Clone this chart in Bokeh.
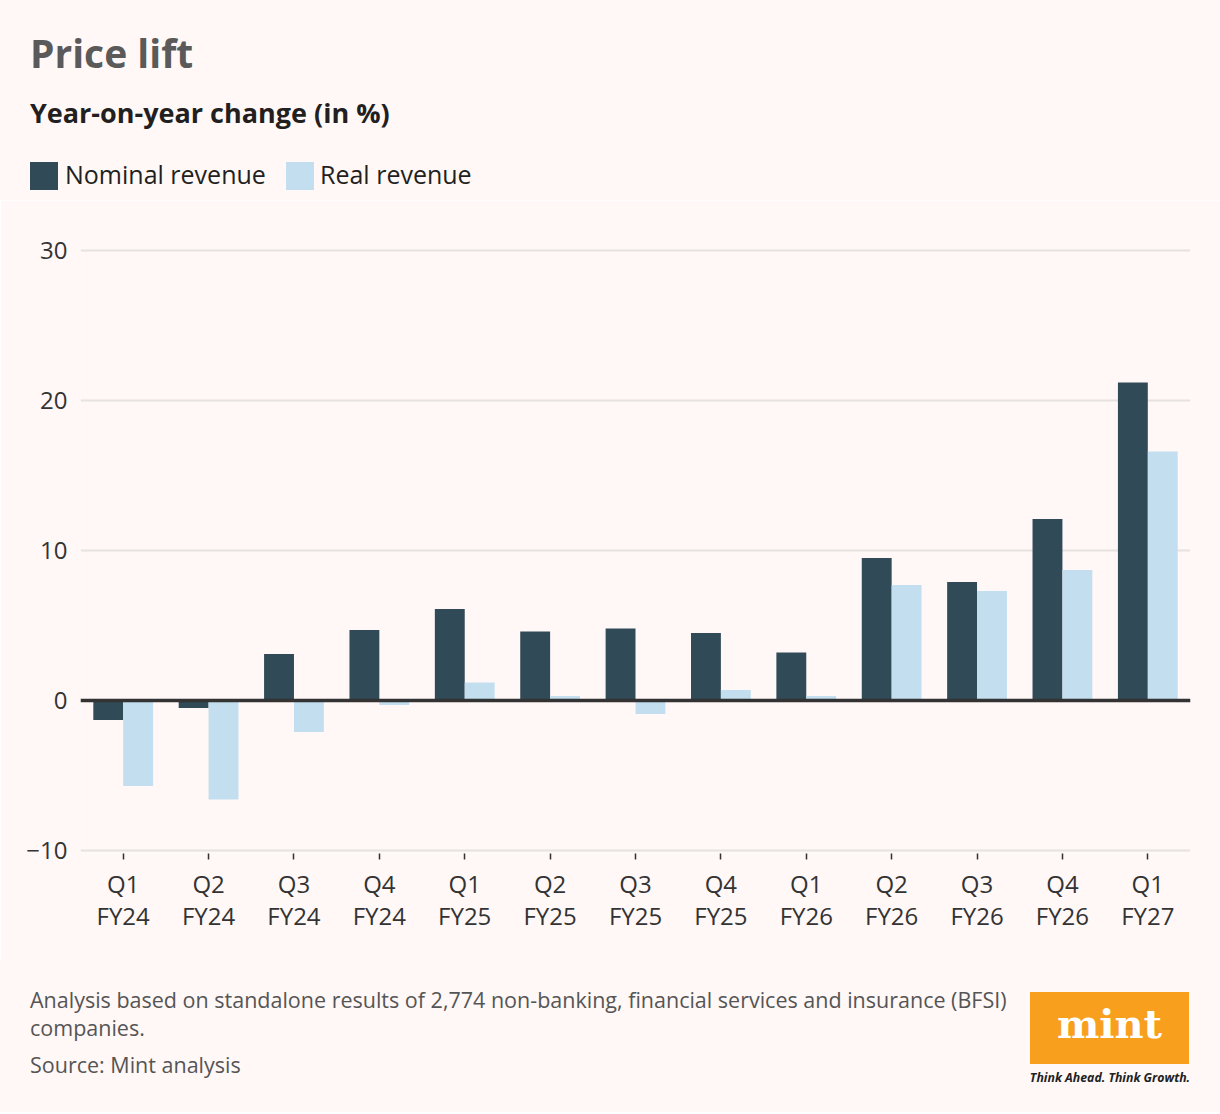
from bokeh.plotting import figure
from bokeh.layouts import column
from bokeh.models import (FactorRange, Range1d, FixedTicker, Span, Div,
                          ColumnDataSource)
from bokeh.transform import dodge
from bokeh.embed import file_html
from bokeh.resources import INLINE

quarters = ["Q1\nFY24", "Q2\nFY24", "Q3\nFY24", "Q4\nFY24",
            "Q1\nFY25", "Q2\nFY25", "Q3\nFY25", "Q4\nFY25",
            "Q1\nFY26", "Q2\nFY26", "Q3\nFY26", "Q4\nFY26", "Q1\nFY27"]
nominal = [-1.3, -0.5, 3.1, 4.7, 6.1, 4.6, 4.8, 4.5, 3.2, 9.5, 7.9, 12.1, 21.2]
real = [-5.7, -6.6, -2.1, -0.3, 1.2, 0.3, -0.9, 0.7, 0.3, 7.7, 7.3, 8.7, 16.6]
y_ticks = [-10, 0, 10, 20, 30]
series_names = ["Nominal revenue", "Real revenue"]
title_text = "Price lift"
subtitle_text = "Year-on-year change (in %)"
note_lines = ["Analysis based on standalone results of 2,774 non-banking, financial services and insurance (BFSI)",
              "companies."]
source_text = "Source: Mint analysis"

BG = "#FFF8F7"
NOM = "#314A57"
REAL = "#C2DEEF"
FONT = "Open Sans"
W = 1220


def span(text, left, top, size, color, weight="normal", style="normal",
         font=FONT, extra=""):
    return (f'<div style="position:absolute;left:{left}px;top:{top}px;'
            f'font-family:\'{font}\';font-size:{size}px;line-height:{size}px;'
            f'color:{color};font-weight:{weight};font-style:{style};'
            f'white-space:nowrap;{extra}">{text}</div>')


def box(left, top, w, h, color):
    return (f'<div style="position:absolute;left:{left}px;top:{top}px;'
            f'width:{w}px;height:{h}px;background:{color};"></div>')


def panel(inner, height):
    html = (f'<div style="position:relative;width:{W}px;height:{height}px;'
            f'background:{BG};overflow:hidden;">{inner}</div>')
    return Div(text=html, width=W, height=height, margin=0,
               styles={"background-color": BG})


# ---------- header ----------
H_HEAD = 200
head_html = (
    span(title_text, 30, 32.5, 39, "#5A5A5A", "bold")
    + span(subtitle_text, 30, 99, 27, "#231F20", "bold")
    + box(30, 162, 28, 28, NOM)
    + span(series_names[0], 65, 162, 25, "#231F20")
    + box(286, 162, 28, 28, REAL)
    + span(series_names[1], 320, 162, 25, "#231F20")
)
head = panel(head_html, H_HEAD)

# ---------- chart ----------
src = ColumnDataSource(dict(q=quarters, nominal=nominal, real=real))
top_b, frame_h, H_MAIN = 47, 606, 760

p = figure(x_range=FactorRange(*quarters, range_padding=0),
           y_range=Range1d(-10.2, 30.2), title=None,
           width=W, height=H_MAIN, output_backend="svg", toolbar_location=None,
           min_border_left=80, min_border_right=30,
           min_border_top=top_b, min_border_bottom=H_MAIN - top_b - frame_h,
           background_fill_color=BG, border_fill_color=BG,
           outline_line_color=None)

p.vbar(x=dodge("q", -0.175, range=p.x_range), top="nominal", width=0.35,
       source=src, fill_color=NOM, line_color=None)
p.vbar(x=dodge("q", 0.175, range=p.x_range), top="real", width=0.35,
       source=src, fill_color=REAL, line_color=None)

p.add_layout(Span(location=0, dimension="width", line_color="#333333",
                  line_width=3.5))

p.xgrid.grid_line_color = None
p.ygrid.ticker = FixedTicker(ticks=y_ticks)
p.ygrid.grid_line_color = "#E6E2E0"
p.ygrid.grid_line_width = 2

p.yaxis.ticker = FixedTicker(ticks=y_ticks)
p.yaxis.axis_line_color = None
p.yaxis.major_tick_line_color = None
p.yaxis.minor_tick_line_color = None
p.yaxis.major_label_text_font = FONT
p.yaxis.major_label_text_font_size = "24px"
p.yaxis.major_label_text_color = "#333333"
p.yaxis.major_label_standoff = 7
p.yaxis.major_label_overrides = {-10: "\u221210"}

p.xaxis.axis_line_color = None
p.xaxis.major_tick_in = 0
p.xaxis.major_tick_out = 6
p.xaxis.major_tick_line_color = "#333333"
p.xaxis.major_tick_line_width = 1.5
p.xaxis.minor_tick_line_color = None
p.xaxis.major_label_text_font = FONT
p.xaxis.major_label_text_font_size = "24px"
p.xaxis.major_label_text_color = "#333333"
p.xaxis.major_label_text_line_height = 0.98
p.xaxis.major_label_standoff = 7

# ---------- footer ----------
H_FOOT = 152
foot_html = (
    span(note_lines[0], 30, 28.9, 21.5, "#555555")
    + span(note_lines[1], 30, 56.9, 21.5, "#555555")
    + span(source_text, 30, 93.9, 21.5, "#555555")
    + box(1030, 32, 159, 72, "#F89F1E")
    + span("mint", 1030, 44.2, 40, "#FFFFFF", "bold", "normal", "DejaVu Serif",
           "width:159px;text-align:center;")
    + span("Think Ahead. Think Growth.", 1026, 112, 12.3, "#222222", "bold",
           "italic", FONT, "width:168px;text-align:center;")
)
foot = panel(foot_html, H_FOOT)

layout = column(head, p, foot, spacing=0)
open("out.html", "w").write(file_html(layout, INLINE))
